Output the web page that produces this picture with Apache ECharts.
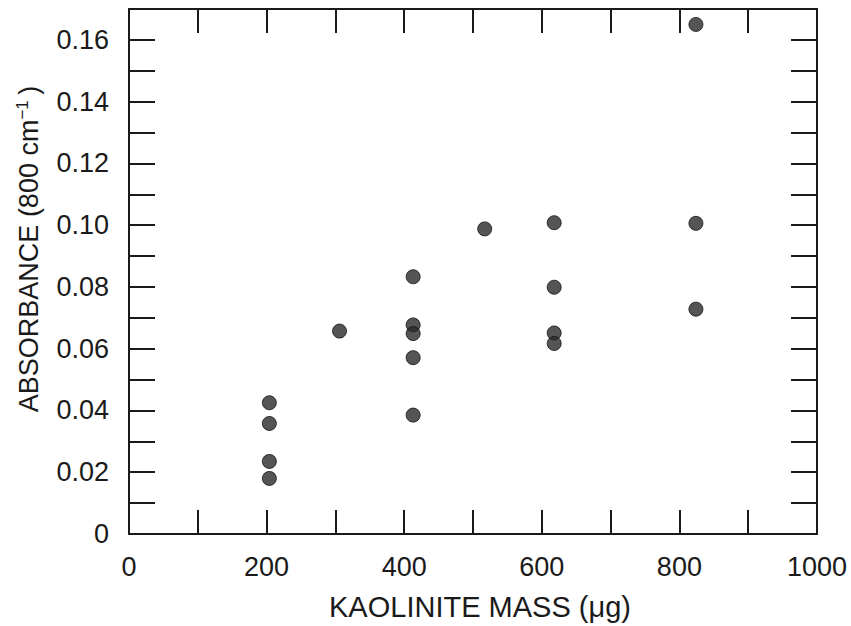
<!DOCTYPE html>
<html>
<head>
<meta charset="utf-8">
<script src="https://cdn.jsdelivr.net/npm/echarts@6/dist/echarts.min.js"></script>
<style>
html,body{margin:0;padding:0;background:#fff;}
#chart{width:851px;height:626px;}
</style>
</head>
<body>
<div id="chart"></div>
<script>
// ---- data ----
var massValues = [204, 204, 204, 204, 306, 413, 413, 413, 413, 413, 517, 618, 618, 618, 618, 824, 824, 824];
var absorbanceValues = [0.0425, 0.0358, 0.0235, 0.018, 0.0657, 0.0833, 0.0677, 0.0649, 0.0571, 0.0385, 0.0988, 0.1008, 0.0799, 0.0651, 0.0617, 0.165, 0.1006, 0.0728];
var xTickLabels = ['0', '200', '400', '600', '800', '1000'];
var yTickLabels = ['0', '0.02', '0.04', '0.06', '0.08', '0.10', '0.12', '0.14', '0.16'];
var xTitle = 'KAOLINITE MASS (\u03bcg)';

var points = massValues.map(function (m, i) { return [m, absorbanceValues[i]]; });

var FONT = '"Liberation Sans", Arial, sans-serif';
var INK = '#1a1a1a';

function xFmt(v) {
  var idx = Math.round(v / 200);
  return (Math.abs(v - idx * 200) < 1e-6 && xTickLabels[idx] !== undefined) ? xTickLabels[idx] : '';
}
function yFmt(v) {
  var k = Math.round(v * 100);
  if (k % 2 !== 0) return '';
  var s = yTickLabels[k / 2];
  return s === undefined ? '' : s;
}

var lineStyle = { color: INK, width: 2 };
var tickStyle = { color: INK, width: 2 };

var chart = echarts.init(document.getElementById('chart'), null, { renderer: 'svg' });
chart.setOption({
  animation: false,
  backgroundColor: '#ffffff',
  grid: { left: 129, right: 34, top: 9, bottom: 92, containLabel: false },
  xAxis: [
    {
      type: 'value', position: 'bottom', min: 0, max: 1000, interval: 100,
      axisLine: { show: true, onZero: false, lineStyle: lineStyle },
      axisTick: { show: true, inside: true, length: 24, lineStyle: tickStyle },
      axisLabel: { show: true, formatter: xFmt, margin: 19, color: INK, fontSize: 27, fontFamily: FONT },
      splitLine: { show: false }
    },
    {
      type: 'value', position: 'top', min: 0, max: 1000, interval: 100,
      axisLine: { show: true, onZero: false, lineStyle: lineStyle },
      axisTick: { show: true, inside: true, length: 24, lineStyle: tickStyle },
      axisLabel: { show: false },
      splitLine: { show: false }
    }
  ],
  yAxis: [
    {
      type: 'value', position: 'left', min: 0, max: 0.17, interval: 0.01,
      axisLine: { show: true, onZero: false, lineStyle: lineStyle },
      axisTick: { show: true, inside: true, length: 26, lineStyle: tickStyle },
      axisLabel: { show: true, formatter: yFmt, margin: 20, color: INK, fontSize: 27, fontFamily: FONT },
      splitLine: { show: false }
    },
    {
      type: 'value', position: 'right', min: 0, max: 0.17, interval: 0.01,
      axisLine: { show: true, onZero: false, lineStyle: lineStyle },
      axisTick: { show: true, inside: true, length: 26, lineStyle: tickStyle },
      axisLabel: { show: false },
      splitLine: { show: false }
    }
  ],
  graphic: [
    {
      type: 'text', x: 480, y: 607,
      style: { text: xTitle, fill: INK, font: '29px ' + FONT, align: 'center', verticalAlign: 'middle' }
    },
    {
      type: 'text', x: 29, y: 249, rotation: Math.PI / 2, originX: 0, originY: 0,
      style: {
        text: 'ABSORBANCE (800 cm{sup|\u22121}\u2009)',
        fill: INK, font: '27px ' + FONT,
        align: 'center', verticalAlign: 'middle',
        rich: { sup: { fontSize: 17, fontFamily: FONT, fill: INK, verticalAlign: 'top', padding: [0, 0, 14, 0] } }
      }
    }
  ],
  series: [
    {
      type: 'scatter', xAxisIndex: 0, yAxisIndex: 0,
      data: points, symbol: 'circle', symbolSize: 14,
      itemStyle: { color: '#2a2a2a', borderColor: '#111', borderWidth: 1 }
    }
  ]
});
</script>
</body>
</html>
